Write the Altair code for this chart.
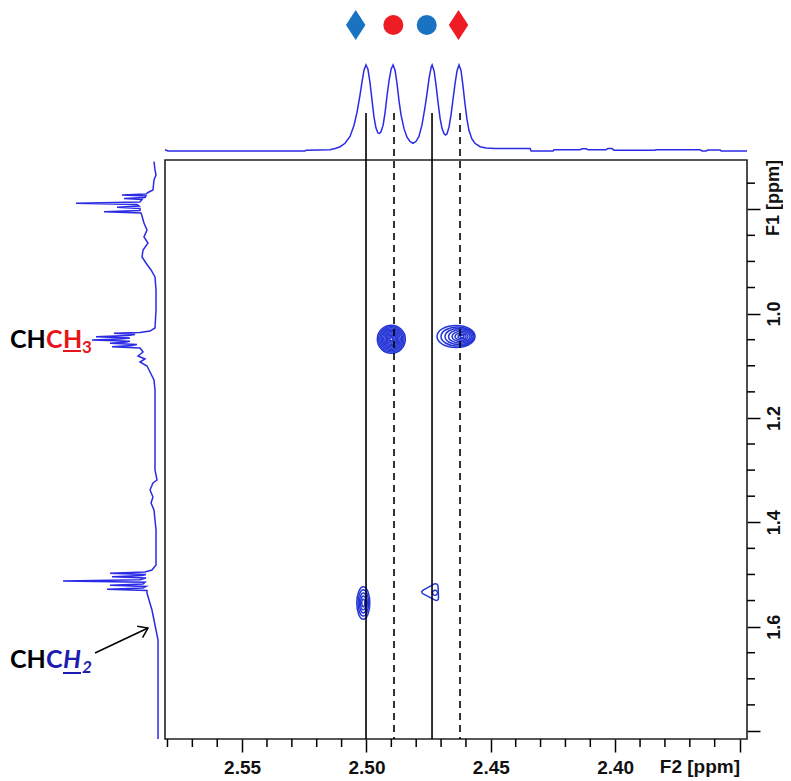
import altair as alt
import pandas as pd

W, H = 582, 579
F2_DOMAIN = [2.347, 2.581]
F1_DOMAIN = [0.7056, 1.8154]

# ---------------- data ----------------
# top projection (F2 ppm, relative intensity)
top_ppm = [2.5810, 2.5798, 2.5247, 2.5243, 2.5147, 2.5126, 2.5106, 2.5086, 2.5066, 2.5050,
           2.5038, 2.5026, 2.5018, 2.5010, 2.5002, 2.4994, 2.4986, 2.4978, 2.4970, 2.4962,
           2.4954, 2.4948, 2.4942, 2.4933, 2.4925, 2.4917, 2.4909, 2.4901, 2.4893, 2.4885,
           2.4877, 2.4869, 2.4861, 2.4849, 2.4837, 2.4825, 2.4813, 2.4801, 2.4789, 2.4777,
           2.4765, 2.4756, 2.4748, 2.4740, 2.4736, 2.4728, 2.4720, 2.4712, 2.4704, 2.4696,
           2.4688, 2.4682, 2.4676, 2.4668, 2.4660, 2.4652, 2.4644, 2.4636, 2.4628, 2.4620,
           2.4612, 2.4604, 2.4596, 2.4588, 2.4576, 2.4564, 2.4543, 2.4519, 2.4483, 2.4342,
           2.4338, 2.4250, 2.4246, 2.4141, 2.4133, 2.4117, 2.4109, 2.4037, 2.4029, 2.4013,
           2.4005, 2.3840, 2.3836, 2.3659, 2.3651, 2.3635, 2.3627, 2.3578, 2.3574, 2.3470]
top_int = [0.015, 0.0, 0.0, 0.01, 0.015, 0.03, 0.05, 0.09, 0.17, 0.30,
           0.45, 0.65, 0.80, 0.94, 1.0, 0.95, 0.80, 0.60, 0.40, 0.27,
           0.21, 0.205, 0.22, 0.30, 0.45, 0.65, 0.82, 0.95, 1.0, 0.94,
           0.78, 0.58, 0.42, 0.26, 0.16, 0.11, 0.09, 0.11, 0.17, 0.30,
           0.50, 0.68, 0.85, 0.97, 1.0, 0.93, 0.76, 0.56, 0.38, 0.26,
           0.20, 0.186, 0.20, 0.28, 0.42, 0.60, 0.78, 0.93, 1.0, 0.94,
           0.76, 0.55, 0.37, 0.24, 0.14, 0.09, 0.05, 0.035, 0.03, 0.03,
           0.0, 0.0, 0.015, 0.015, 0.025, 0.025, 0.015, 0.015, 0.03, 0.03,
           0.01, 0.01, 0.015, 0.015, 0.0, 0.0, 0.012, 0.012, 0.0, 0.0]

# left projection (F1 ppm, relative intensity)
left_ppm = [0.7088, 0.7247, 0.7343, 0.7439, 0.7631, 0.7679, 0.7708, 0.7727, 0.7746, 0.7775,
            0.7794, 0.7813, 0.7861, 0.7886, 0.7909, 0.7938, 0.7962, 0.7985, 0.8024, 0.8047,
            0.8072, 0.8129, 0.8263, 0.8398, 0.8532, 0.8647, 0.8781, 0.8915, 0.9030, 0.9164,
            0.9298, 0.9548, 0.9931, 1.0276, 1.0334, 1.0362, 1.0378, 1.0401, 1.0420, 1.0443,
            1.0468, 1.0487, 1.0506, 1.0531, 1.0550, 1.0569, 1.0592, 1.0611, 1.0634, 1.0659,
            1.0736, 1.0813, 1.0870, 1.0928, 1.1004, 1.1119, 1.1273, 1.1464, 1.2231, 1.2998,
            1.3190, 1.3247, 1.3381, 1.3516, 1.3630, 1.3765, 1.3956, 1.4148, 1.4819, 1.4915,
            1.4953, 1.4978, 1.5001, 1.5020, 1.5043, 1.5068, 1.5103, 1.5126, 1.5151, 1.5183,
            1.5208, 1.5231, 1.5260, 1.5285, 1.5308, 1.5356, 1.5490, 1.5682, 1.5873, 1.6065,
            1.6257, 1.8154]
left_int = [0.011, 0.0, -0.011, 0.011, 0.022, 0.076, 0.098, 0.359, 0.098, 0.109,
            0.337, 0.141, 0.163, 0.859, 0.196, 0.174, 0.413, 0.163, 0.163, 0.554,
            0.152, 0.141, 0.120, 0.087, 0.120, 0.076, 0.130, 0.141, 0.098, 0.043,
            0.0, -0.011, -0.011, 0.0, 0.054, 0.163, 0.446, 0.217, 0.293, 0.641,
            0.272, 0.380, 0.685, 0.272, 0.326, 0.489, 0.196, 0.250, 0.467, 0.163,
            0.130, 0.185, 0.109, 0.163, 0.087, 0.054, 0.011, 0.0, 0.0, 0.0,
            -0.022, 0.022, 0.054, 0.022, 0.043, 0.011, 0.0, -0.011, -0.011, 0.033,
            0.109, 0.489, 0.098, 0.141, 0.467, 0.098, 0.163, 1.0, 0.109, 0.130,
            0.489, 0.098, 0.130, 0.522, 0.087, 0.087, 0.065, 0.033, 0.011, -0.011,
            -0.033, -0.033]

# cross-peak contour rings: centre (F2, F1), ring width along F2 (ppm), outline form
ring_f2 = [2.4900] * 11 + [2.46399, 2.46339, 2.46278, 2.46238, 2.46198, 2.46178, 2.46158, 2.46158] \
          + [2.50127] * 5 + [2.47445, 2.47244]
ring_f1 = [1.0491] * 11 + [1.0439] * 8 + [1.5547] * 5 + [1.5337, 1.5350]
ring_w = [0.01126, 0.01025, 0.00925, 0.00824, 0.00724, 0.00623, 0.00523, 0.00422, 0.00322, 0.00221, 0.00121,
          0.01528, 0.01327, 0.01126, 0.00925, 0.00724, 0.00523, 0.00322, 0.00161,
          0.00523, 0.00422, 0.00322, 0.00221, 0.00121,
          0.00684, 0.00201]
ring_form = ["round"] * 11 + ["oval"] * 8 + ["tall"] * 5 + ["tri", "round"]

# correlation lines
line_f2 = [2.50018, 2.48892, 2.47364, 2.46238]
line_style = ["solid", "dashed", "solid", "dashed"]

# symbols above the projection
sym_f2 = [2.50432, 2.48920, 2.47577, 2.46299]
sym_kind = ["diamond", "circle", "circle", "diamond"]
sym_tone = ["blue", "red", "blue", "red"]

# axis ticks
x_major = [2.55, 2.50, 2.45, 2.40, 2.35]
x_minor = [2.58, 2.57, 2.56, 2.54, 2.53, 2.52, 2.51, 2.49, 2.48, 2.47, 2.46,
           2.44, 2.43, 2.42, 2.41, 2.39, 2.38, 2.37, 2.36]
y_major = [0.8, 1.0, 1.2, 1.4, 1.6, 1.8]
y_minor = [0.75, 0.85, 0.9, 0.95, 1.05, 1.1, 1.15, 1.25, 1.3, 1.35, 1.45,
           1.5, 1.55, 1.65, 1.7, 1.75]

x_title = "F2 [ppm]"
y_title = "F1 [ppm]"
ch3_parts = ["CH", "C", "H", "3"]
ch2_parts = ["CH", "C", "H", "2"]

# ---------------- styles ----------------
SPEC_BLUE = "#2b2be6"
CONTOUR = "#2636d6"
SYM_BLUE = "#1a73c2"
SYM_RED = "#ee1c25"
LBL_RED = "#e8141c"
LBL_BLUE = "#1c1cb0"
AX_FONT = "Liberation Sans"
LBL_FONT = "Lato"

x_f2 = alt.Scale(domain=F2_DOMAIN, reverse=True, nice=False, zero=False)
y_f1 = alt.Scale(domain=F1_DOMAIN, reverse=True, nice=False, zero=False)

X_AXIS = alt.Axis(values=x_major, orient="bottom", tickSize=13, tickWidth=1.5, tickColor="black",
                  domain=False, grid=False, labelFont=AX_FONT, labelFontWeight="bold",
                  labelFontSize=19, labelColor="#111111", labelPadding=6, labelFlush=False,
                  labelOverlap=False,
                  labelExpr="datum.value < 2.36 ? '' : format(datum.value, '.2f')", title=None)
Y_AXIS = alt.Axis(values=y_major, orient="right", tickSize=13, tickWidth=1.5, tickColor="black",
                  domain=False, grid=False, labelFont=AX_FONT, labelFontWeight="bold",
                  labelFontSize=18, labelColor="#111111", labelPadding=5, labelFlush=False,
                  labelOverlap=False, labelAngle=270, labelAlign="center", labelBaseline="top",
                  labelExpr="(datum.value < 0.9 || datum.value > 1.7) ? '' : format(datum.value, '.1f')",
                  title=None)

ROUND = "M-1,0 A1,1 0 1,0 1,0 A1,1 0 1,0 -1,0 Z"
OVAL = "M-1,0 A1,0.58 0 1,0 1,0 A1,0.58 0 1,0 -1,0 Z"
TALL = "M-1,0 A1,2.5 0 1,0 1,0 A1,2.5 0 1,0 -1,0 Z"
TRI = ("M-0.95,0.05 C-1.05,-0.05 -0.9,-0.15 -0.75,-0.25 L0.5,-0.95 C0.75,-1.05 0.95,-0.9 0.95,-0.6 "
       "L1,0.7 C1,0.95 0.8,1.05 0.6,0.95 L-0.75,0.25 C-0.9,0.18 -0.95,0.1 -0.95,0.05 Z")
DIAMOND = "M0,-1 L0.65,0 L0,1 L-0.65,0 Z"

one = pd.DataFrame({"a": [0]})

# ---------------- main panel ----------------
ring_df = pd.DataFrame({"f2": ring_f2, "f1": ring_f1, "w": ring_w, "form": ring_form})
contours = alt.Chart(ring_df).mark_point(filled=False, strokeWidth=1.5, color=CONTOUR, opacity=1).encode(
    x=alt.X("f2:Q", scale=x_f2, axis=X_AXIS),
    y=alt.Y("f1:Q", scale=y_f1, axis=Y_AXIS),
    size=alt.Size("w:Q", scale=alt.Scale(type="pow", exponent=2, domain=[0, 0.02], range=[0, 2474]),
                  legend=None),
    shape=alt.Shape("form:N", scale=alt.Scale(domain=["round", "oval", "tall", "tri"],
                                              range=[ROUND, OVAL, TALL, TRI]), legend=None),
)

vlines = alt.Chart(pd.DataFrame({"f2": line_f2, "style": line_style})).mark_rule(
    color="black", strokeWidth=1.6).encode(
    x=alt.X("f2:Q", scale=x_f2, axis=X_AXIS),
    y=alt.value(-47), y2=alt.value(H),
    strokeDash=alt.StrokeDash("style:N", scale=alt.Scale(domain=["solid", "dashed"],
                                                         range=[[1, 0], [7, 5]]), legend=None),
)

xminor = alt.Chart(pd.DataFrame({"f2": x_minor})).mark_rule(color="black", strokeWidth=1.5).encode(
    x=alt.X("f2:Q", scale=x_f2, axis=X_AXIS), y=alt.value(H), y2=alt.value(H + 8))
yminor = alt.Chart(pd.DataFrame({"f1": y_minor})).mark_rule(color="black", strokeWidth=1.5).encode(
    y=alt.Y("f1:Q", scale=y_f1, axis=Y_AXIS), x=alt.value(W), x2=alt.value(W + 8))

sym_df = pd.DataFrame({"f2": sym_f2, "kind": sym_kind, "tone": sym_tone})
tone_scale = alt.Scale(domain=["blue", "red"], range=[SYM_BLUE, SYM_RED])
diamonds = alt.Chart(sym_df).transform_filter("datum.kind == 'diamond'").mark_point(
    shape=DIAMOND, size=900, filled=True, opacity=1, strokeWidth=0).encode(
    x=alt.X("f2:Q", scale=x_f2, axis=X_AXIS), y=alt.value(-135),
    color=alt.Color("tone:N", scale=tone_scale, legend=None))
circles = alt.Chart(sym_df).transform_filter("datum.kind == 'circle'").mark_point(
    shape="circle", size=400, filled=True, opacity=1, strokeWidth=0).encode(
    x=alt.X("f2:Q", scale=x_f2, axis=X_AXIS), y=alt.value(-135),
    color=alt.Color("tone:N", scale=tone_scale, legend=None))


def text_piece(txt, x, y, color, size, style="normal", align="left", baseline="alphabetic",
               angle=0, font=LBL_FONT):
    return alt.Chart(pd.DataFrame({"t": [txt]})).mark_text(
        align=align, baseline=baseline, font=font, fontSize=size, fontWeight="bold",
        fontStyle=style, color=color, angle=angle).encode(
        x=alt.value(x), y=alt.value(y), text="t:N")


def seg(x1, y1, x2, y2, color, width=2):
    return alt.Chart(one).mark_rule(color=color, strokeWidth=width).encode(
        x=alt.value(x1), y=alt.value(y1), x2=alt.value(x2), y2=alt.value(y2))


texts = [
    text_piece(x_title, 575, H + 19, "#111111", 19, align="right", baseline="top", font=AX_FONT),
    text_piece(y_title, W + 18, 38, "#111111", 18, align="center", baseline="top", angle=270,
               font=AX_FONT),
    text_piece(ch3_parts[0], -155, 188, "black", 25),
    text_piece(ch3_parts[1], -119, 188, LBL_RED, 25),
    text_piece(ch3_parts[2], -102, 188, LBL_RED, 25),
    text_piece(ch3_parts[3], -83, 193, LBL_RED, 17),
    seg(-102, 191, -84, 191, LBL_RED),
    text_piece(ch2_parts[0], -155, 508, "black", 25),
    text_piece(ch2_parts[1], -119, 508, LBL_BLUE, 25),
    text_piece(ch2_parts[2], -102, 508, LBL_BLUE, 25, style="italic"),
    text_piece(ch2_parts[3], -83, 513, LBL_BLUE, 17, style="italic"),
    seg(-102, 513, -84, 513, LBL_BLUE),
    seg(-70, 493, -17, 468, "black", 1.5),
    alt.Chart(one).mark_point(shape="M-1,-0.7 L0,0 L-1,0.7", filled=False, size=324, angle=334.7,
                              color="black", strokeWidth=1.5, opacity=1).encode(
        x=alt.value(-17), y=alt.value(468)),
]

main = alt.layer(contours, vlines, xminor, yminor, diamonds, circles, *texts)

# ---------------- projections ----------------
top_df = pd.DataFrame({"f2": top_ppm, "inten": top_int})
top_line = alt.Chart(top_df).mark_line(color=SPEC_BLUE, strokeWidth=1.5).encode(
    x=alt.X("f2:Q", scale=x_f2, axis=None),
    y=alt.Y("inten:Q", scale=alt.Scale(domain=[0, 1], range=[-9, -95], zero=False, nice=False),
            axis=None),
)

left_df = pd.DataFrame({"f1": left_ppm, "inten": left_int, "i": list(range(len(left_ppm)))})
left_line = alt.Chart(left_df).mark_line(color=SPEC_BLUE, strokeWidth=1.5).encode(
    x=alt.X("inten:Q", scale=alt.Scale(domain=[0, 1], range=[-10, -102], zero=False, nice=False),
            axis=None),
    y=alt.Y("f1:Q", scale=y_f1, axis=None),
    order=alt.Order("i:Q"),
)

chart = alt.layer(main, top_line, left_line).resolve_scale(
    x="independent", y="independent"
).properties(
    width=W, height=H,
    autosize=alt.AutoSizeParams(type="none"),
    padding={"left": 157, "top": 152, "right": 36, "bottom": 41},
).configure_view(stroke="#222222", strokeWidth=1.6)

chart.save("out.html", embed_options={"renderer": "svg", "actions": False})
